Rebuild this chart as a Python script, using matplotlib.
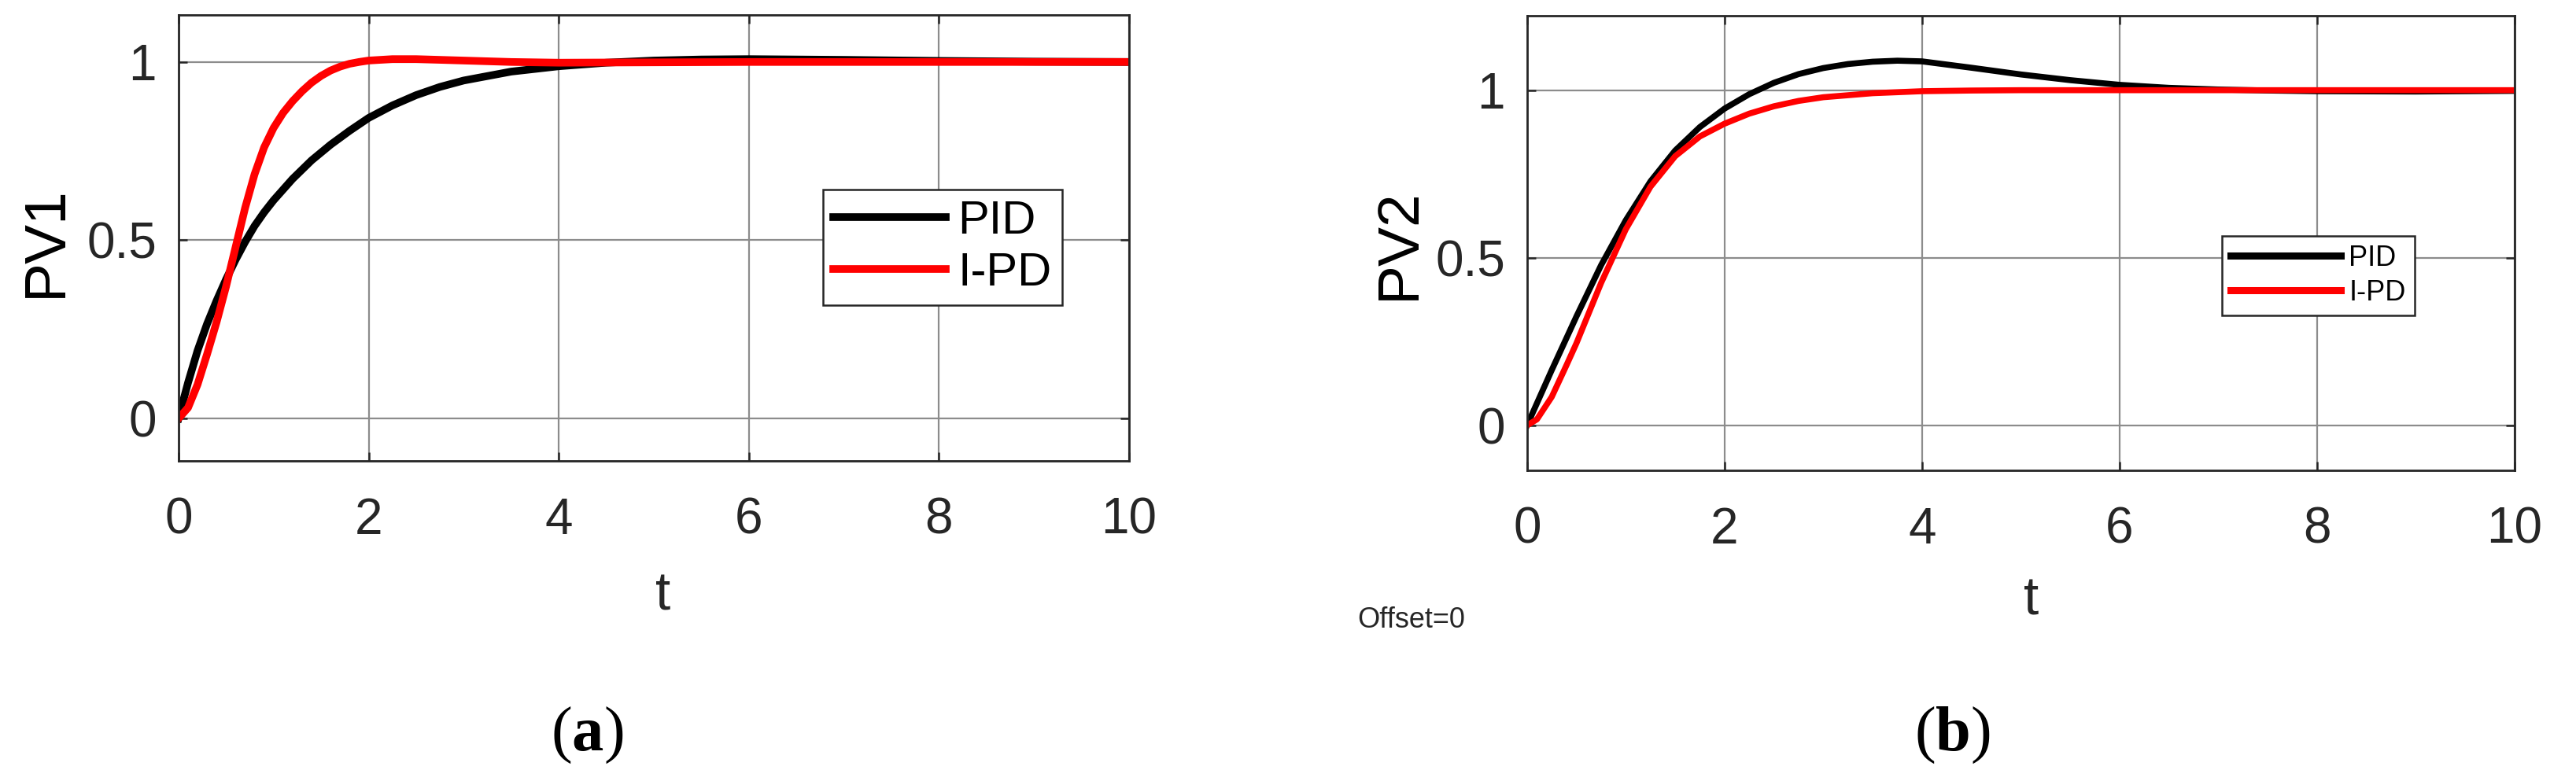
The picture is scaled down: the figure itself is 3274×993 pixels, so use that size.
import matplotlib
matplotlib.use('Agg')
import matplotlib.pyplot as plt

# panel (a): PV1 step responses
t1_pid = [0, 0.1, 0.2, 0.3, 0.4, 0.5, 0.6, 0.7, 0.8, 0.9, 1.0, 1.2, 1.4, 1.6, 1.8,
          2.0, 2.25, 2.5, 2.75, 3.0, 3.5, 4.0, 4.5, 5.0, 5.5, 6.0, 7.0, 8.0, 9.0, 10.0]
pv1_pid = [0, 0.10, 0.19, 0.265, 0.33, 0.39, 0.445, 0.495, 0.54, 0.578, 0.612, 0.672,
           0.724, 0.768, 0.807, 0.843, 0.878, 0.907, 0.93, 0.948, 0.973, 0.988, 0.998,
           1.004, 1.007, 1.008, 1.006, 1.003, 1.001, 1.0]
t1_ipd = [0, 0.1, 0.2, 0.3, 0.4, 0.5, 0.6, 0.7, 0.8, 0.9, 1.0, 1.1, 1.2, 1.3, 1.4, 1.5,
          1.6, 1.7, 1.8, 1.9, 2.0, 2.25, 2.5, 3.0, 3.5, 4.0, 5.0, 6.0, 8.0, 10.0]
pv1_ipd = [0, 0.03, 0.095, 0.18, 0.27, 0.37, 0.48, 0.59, 0.685, 0.76, 0.815, 0.857,
           0.89, 0.918, 0.942, 0.961, 0.976, 0.987, 0.995, 1.0, 1.004, 1.008, 1.008,
           1.004, 1.0, 0.998, 0.999, 1.0, 1.0, 1.0]

# panel (b): PV2 step responses
t2_pid = [0, 0.25, 0.5, 0.75, 1.0, 1.25, 1.5, 1.75, 2.0, 2.25, 2.5, 2.75, 3.0, 3.25,
          3.5, 3.75, 4.0, 4.5, 5.0, 5.5, 6.0, 6.5, 7.0, 7.5, 8.0, 9.0, 10.0]
pv2_pid = [0, 0.165, 0.325, 0.478, 0.612, 0.728, 0.82, 0.89, 0.945, 0.988, 1.022,
           1.048, 1.066, 1.078, 1.085, 1.088, 1.086, 1.067, 1.047, 1.03, 1.016, 1.007,
           1.002, 0.999, 0.997, 0.996, 0.998]
t2_ipd = [0, 0.1, 0.25, 0.4, 0.5, 0.75, 1.0, 1.25, 1.5, 1.75, 2.0, 2.25, 2.5, 2.75,
          3.0, 3.5, 4.0, 4.5, 5.0, 6.0, 8.0, 10.0]
pv2_ipd = [0, 0.018, 0.085, 0.18, 0.245, 0.425, 0.585, 0.712, 0.803, 0.862, 0.9, 0.93,
           0.952, 0.968, 0.979, 0.991, 0.997, 0.999, 1.0, 1.0, 1.0, 1.0]

labels = ['PID', 'I-PD']
xticks = [0, 2, 4, 6, 8, 10]
yticks = [0, 0.5, 1]
ytick_labels = ['0', '0.5', '1']

plt.rcParams['font.family'] = ['Liberation Sans', 'DejaVu Sans']
plt.rcParams['mathtext.fontset'] = 'custom'
plt.rcParams['mathtext.rm'] = 'Liberation Serif'
plt.rcParams['mathtext.bf'] = 'Liberation Serif:bold'

dark = '#262626'

fig = plt.figure(figsize=(32.74, 9.93), dpi=100)
ax1 = fig.add_axes([0.0693, 0.4099, 0.369, 0.571])
ax2 = fig.add_axes([0.5928, 0.3978, 0.3833, 0.582])


def setup(ax, ylim, ylabel, lw):
    ax.set_xlim(0, 10)
    ax.set_ylim(*ylim)
    ax.set_xticks(xticks)
    ax.set_yticks(yticks)
    ax.set_yticklabels(ytick_labels)
    ax.grid(True, color='#8c8c8c', linewidth=1.6)
    ax.set_axisbelow(True)
    ax.tick_params(direction='in', length=8, width=1.8, top=True, right=True,
                   labelsize=46, colors=dark)
    ax.tick_params(axis='x', pad=33)
    ax.tick_params(axis='y', pad=20)
    for sp in ax.spines.values():
        sp.set_color(dark)
        sp.set_linewidth(2.0)
    ax.set_ylabel(ylabel, fontsize=54, color='black')
    ax.set_xlabel('t', fontsize=50, color=dark)
    ax.xaxis.label.set_verticalalignment('baseline')


setup(ax1, (-0.119, 1.132), 'PV1', 7)
ax1.plot(t1_pid, pv1_pid, color='black', lw=7, label=labels[0])
ax1.plot(t1_ipd, pv1_ipd, color='#ff0000', lw=7, label=labels[1])
ax1.yaxis.set_label_coords(-0.111, 0.492)
ax1.xaxis.set_label_coords(0.51, -0.335)
leg1 = ax1.legend(loc='upper left', bbox_to_anchor=(0.678, 0.608), borderaxespad=0,
                  fontsize=43, borderpad=0.22, labelspacing=0.17, handlelength=2.4,
                  handletextpad=0.25, fancybox=False, framealpha=1, edgecolor=dark)
leg1.get_frame().set_linewidth(1.8)
for ln in leg1.get_lines():
    ln.set_linewidth(7)

setup(ax2, (-0.134, 1.222), 'PV2', 5.5)
ax2.plot(t2_pid, pv2_pid, color='black', lw=5.5, label=labels[0])
ax2.plot(t2_ipd, pv2_ipd, color='#ff0000', lw=5.5, label=labels[1])
ax2.yaxis.set_label_coords(-0.102, 0.498)
ax2.xaxis.set_label_coords(0.511, -0.318)
leg2 = ax2.legend(loc='upper left', bbox_to_anchor=(0.704, 0.5156), borderaxespad=0,
                  fontsize=26, borderpad=0.3, labelspacing=0.25, handlelength=3.86,
                  handletextpad=0.3, fancybox=False, framealpha=1, edgecolor=dark)
leg2.get_frame().set_linewidth(1.8)
for ln in leg2.get_lines():
    ln.set_linewidth(6.5)

fig.text(0.5269, 0.1964, 'Offset=0', fontsize=26, color=dark, ha='left', va='baseline')

fig.text(0.228, 0.039, r'$\mathrm{(}\mathbf{a}\mathrm{)}$', fontsize=58,
         ha='center', va='baseline')
fig.text(0.758, 0.039, r'$\mathrm{(}\mathbf{b}\mathrm{)}$', fontsize=58,
         ha='center', va='baseline')

fig.savefig('out.png', dpi=100)
